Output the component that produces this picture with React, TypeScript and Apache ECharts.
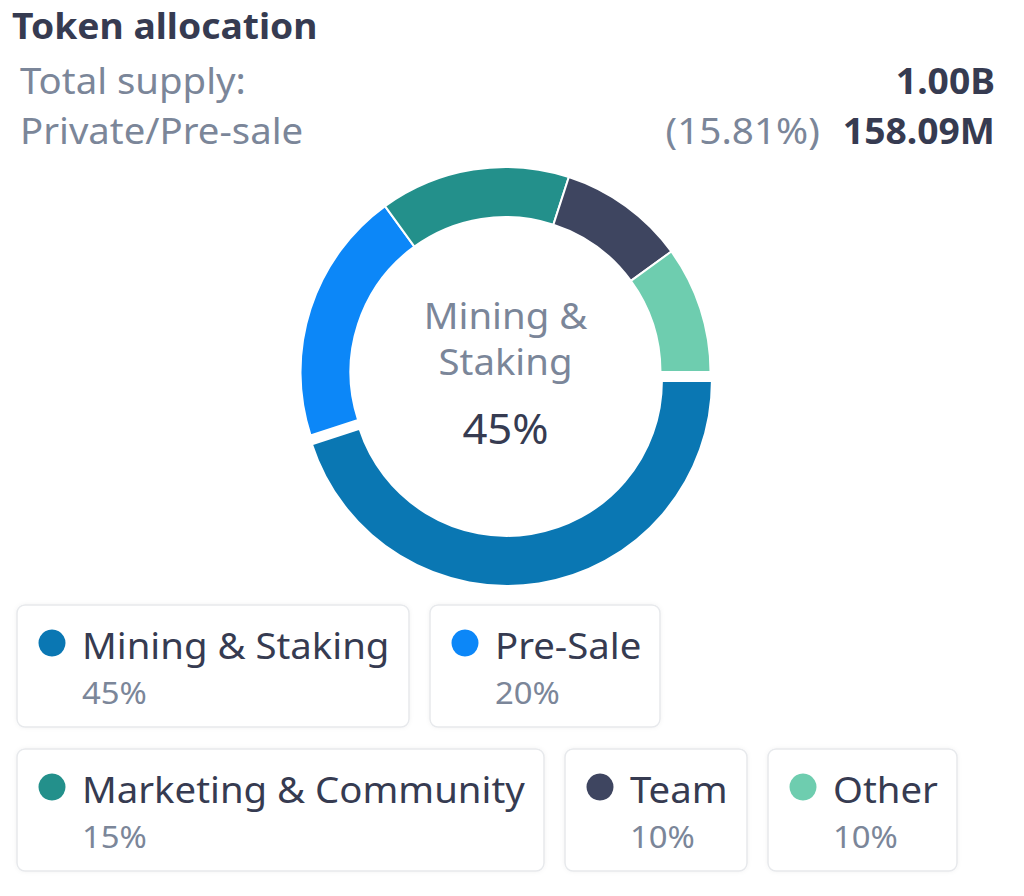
import React, { useEffect, useRef } from "react";
import * as echarts from "echarts";

// ---- data ----
const categories = ["Mining & Staking", "Pre-Sale", "Marketing & Community", "Team", "Other"];
const shares = [45, 20, 15, 10, 10];
const colors = ["#0a77b3", "#0c87f8", "#23908b", "#3e4560", "#6ecdaf"];
const titleText = "Token allocation";
const summaryLabels = ["Total supply:", "Private/Pre-sale"];
const totalSupply = "1.00B";
const privateShare = "(15.81%)";
const privateAmount = "158.09M";

// ---- styling / layout ----
const FONT = '"Noto Sans", "Open Sans", sans-serif';
const DARK = "#363b51";
const GRAY = "#7b8699";

function measure(text: string, font: string): number {
  const c = document.createElement("canvas");
  const ctx = c.getContext("2d");
  if (!ctx) return text.length * 18;
  ctx.font = font;
  return ctx.measureText(text).width;
}

function txt(
  text: string,
  x: number,
  y: number,
  font: string,
  fill: string,
  align: string,
  sx: number,
  extra: any = {}
) {
  return {
    type: "text",
    x,
    y,
    scaleX: sx,
    style: { text, font, fill, align, verticalAlign: "middle", ...extra },
  };
}

export default function App() {
  const ref = useRef<HTMLDivElement>(null);

  useEffect(() => {
    document.body.style.margin = "0";
    if (!ref.current) return;
    const chart = echarts.init(ref.current, undefined, { renderer: "svg" });

    const cx = 505.5;
    const cy = 372;

    // legend cards (flow layout)
    const labelFont = `36px ${FONT}`;
    const labelScale = 1.065;
    const pctFont = `31px ${FONT}`;
    const cardH = 122;
    const gapX = 21;
    const gapY = 22;
    const startX = 17;
    const maxRight = 1005;
    let x = startX;
    let y = 605;
    const cards: any[] = [];
    categories.forEach((name, i) => {
      const w = Math.round(65 + measure(name, labelFont) * labelScale + 19);
      if (x + w > maxRight && x > startX) {
        x = startX;
        y += cardH + gapY;
      }
      cards.push({
        type: "group",
        x,
        y,
        children: [
          {
            type: "rect",
            shape: { x: 0, y: 0, width: w, height: cardH, r: 8 },
            style: {
              fill: "#ffffff",
              stroke: "#e7e9ec",
              lineWidth: 1.5,
              shadowBlur: 4,
              shadowColor: "rgba(0,0,0,0.05)",
            },
          },
          {
            type: "circle",
            shape: { cx: 35, cy: 38, r: 13.5 },
            style: { fill: colors[i] },
          },
          txt(name, 65, 40, labelFont, DARK, "left", labelScale),
          txt(shares[i] + "%", 65, 87, pctFont, GRAY, "left", 1.06),
        ],
      });
      x += w + gapX;
    });

    const centerName = categories[0].replace(" & ", " &\n");

    const boldFont = `bold 36px ${FONT}`;
    const boldScale = 1.035;
    const amountW = measure(privateAmount, boldFont) * boldScale;

    chart.setOption({
      animation: false,
      series: [
        {
          type: "pie",
          center: [cx, cy],
          radius: [155, 205],
          startAngle: 0,
          clockwise: true,
          selectedMode: "single",
          selectedOffset: 9,
          label: { show: false },
          labelLine: { show: false },
          emphasis: { disabled: true },
          itemStyle: { borderColor: "#ffffff", borderWidth: 2 },
          data: categories.map((name, i) => ({
            name,
            value: shares[i],
            selected: i === 0,
            itemStyle: { color: colors[i] },
          })),
        },
      ],
      graphic: [
        txt(titleText, 12, 25, `bold 36px ${FONT}`, DARK, "left", 1.035),
        txt(summaryLabels[0], 20, 80, `36px ${FONT}`, GRAY, "left", 1.065),
        txt(summaryLabels[1], 20, 130, `36px ${FONT}`, GRAY, "left", 1.065),
        txt(totalSupply, 995, 80, boldFont, DARK, "right", boldScale),
        txt(privateAmount, 995, 130, boldFont, DARK, "right", boldScale),
        txt(privateShare, 995 - amountW - 23, 130, `36px ${FONT}`, GRAY, "right", 1.075),
        txt(centerName, cx, 338, `36px ${FONT}`, GRAY, "center", 1.065, { lineHeight: 46 }),
        txt(shares[0] + "%", cx, 428, `42px ${FONT}`, DARK, "center", 1.04),
        ...cards,
      ],
    });

    return () => chart.dispose();
  }, []);

  return <div ref={ref} style={{ width: 1024, height: 896 }} />;
}
